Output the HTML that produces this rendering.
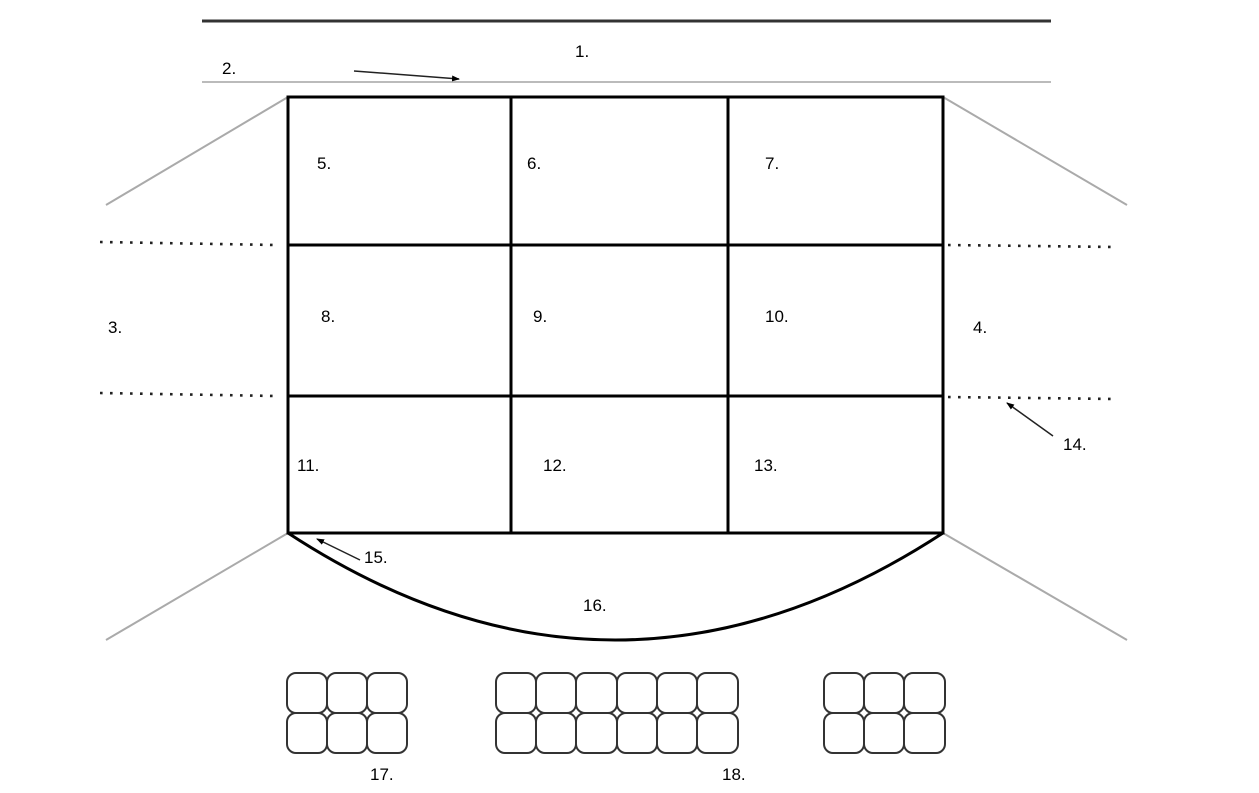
<!DOCTYPE html>
<html><head><meta charset="utf-8"><style>
html,body{margin:0;padding:0;background:#fff;}
svg{display:block;}
text{font-family:"Liberation Sans",sans-serif;font-size:17px;fill:#000;}
</style></head><body>
<svg width="1259" height="793" viewBox="0 0 1259 793" xmlns="http://www.w3.org/2000/svg">
<defs>
<marker id="ah" markerWidth="8" markerHeight="6" refX="7" refY="3" orient="auto" markerUnits="userSpaceOnUse">
<path d="M0,0 L8,3 L0,6 z" fill="#000"/>
</marker>
</defs>
<line x1="202" y1="21" x2="1051" y2="21" stroke="#333" stroke-width="3"/>
<line x1="202" y1="82" x2="1051" y2="82" stroke="#bbb" stroke-width="2"/>
<text x="575" y="57">1.</text>
<text x="222" y="74">2.</text>
<line x1="354" y1="71" x2="459" y2="79" stroke="#222" stroke-width="1.5" marker-end="url(#ah)"/>

<g stroke="#aaa" stroke-width="2">
<line x1="288" y1="97" x2="106" y2="205"/>
<line x1="943" y1="97" x2="1127" y2="205"/>
<line x1="288" y1="533" x2="106" y2="640"/>
<line x1="943" y1="533" x2="1127" y2="640"/>
</g>
<g stroke="#222" stroke-width="2.6" stroke-dasharray="2.6 7.4">
<line x1="100" y1="242" x2="276" y2="245"/>
<line x1="100" y1="393" x2="276" y2="396"/>
<line x1="948" y1="245" x2="1115" y2="247"/>
<line x1="948" y1="397" x2="1115" y2="399"/>
</g>
<text x="108" y="333">3.</text>
<text x="973" y="333">4.</text>

<g stroke="#000" stroke-width="3" fill="none">
<rect x="288" y="97" width="655" height="436"/>
<line x1="511" y1="97" x2="511" y2="533"/>
<line x1="728" y1="97" x2="728" y2="533"/>
<line x1="288" y1="245" x2="943" y2="245"/>
<line x1="288" y1="396" x2="943" y2="396"/>
<path d="M288,533 Q615,747 943,533" stroke-width="3"/>
</g>
<text x="317" y="169">5.</text>
<text x="527" y="169">6.</text>
<text x="765" y="169">7.</text>
<text x="321" y="322">8.</text>
<text x="533" y="322">9.</text>
<text x="765" y="322">10.</text>
<text x="297" y="471">11.</text>
<text x="543" y="471">12.</text>
<text x="754" y="471">13.</text>

<line x1="1053" y1="436" x2="1007" y2="403" stroke="#222" stroke-width="1.5" marker-end="url(#ah)"/>
<text x="1063" y="450">14.</text>
<line x1="360" y1="560" x2="317" y2="539" stroke="#222" stroke-width="1.5" marker-end="url(#ah)"/>
<text x="364" y="563">15.</text>
<text x="583" y="611">16.</text>

<g stroke="#333" stroke-width="2" fill="#fff">
<rect x="287" y="673" width="40" height="40" rx="9"/>
<rect x="327" y="673" width="40" height="40" rx="9"/>
<rect x="367" y="673" width="40" height="40" rx="9"/>
<rect x="287" y="713" width="40" height="40" rx="9"/>
<rect x="327" y="713" width="40" height="40" rx="9"/>
<rect x="367" y="713" width="40" height="40" rx="9"/>

<rect x="496" y="673" width="40" height="40" rx="9"/>
<rect x="536" y="673" width="40" height="40" rx="9"/>
<rect x="576" y="673" width="41" height="40" rx="9"/>
<rect x="617" y="673" width="40" height="40" rx="9"/>
<rect x="657" y="673" width="40" height="40" rx="9"/>
<rect x="697" y="673" width="41" height="40" rx="9"/>
<rect x="496" y="713" width="40" height="40" rx="9"/>
<rect x="536" y="713" width="40" height="40" rx="9"/>
<rect x="576" y="713" width="41" height="40" rx="9"/>
<rect x="617" y="713" width="40" height="40" rx="9"/>
<rect x="657" y="713" width="40" height="40" rx="9"/>
<rect x="697" y="713" width="41" height="40" rx="9"/>

<rect x="824" y="673" width="40" height="40" rx="9"/>
<rect x="864" y="673" width="40" height="40" rx="9"/>
<rect x="904" y="673" width="41" height="40" rx="9"/>
<rect x="824" y="713" width="40" height="40" rx="9"/>
<rect x="864" y="713" width="40" height="40" rx="9"/>
<rect x="904" y="713" width="41" height="40" rx="9"/>
</g>
<text x="370" y="780">17.</text>
<text x="722" y="780">18.</text>
</svg>
</body></html>
